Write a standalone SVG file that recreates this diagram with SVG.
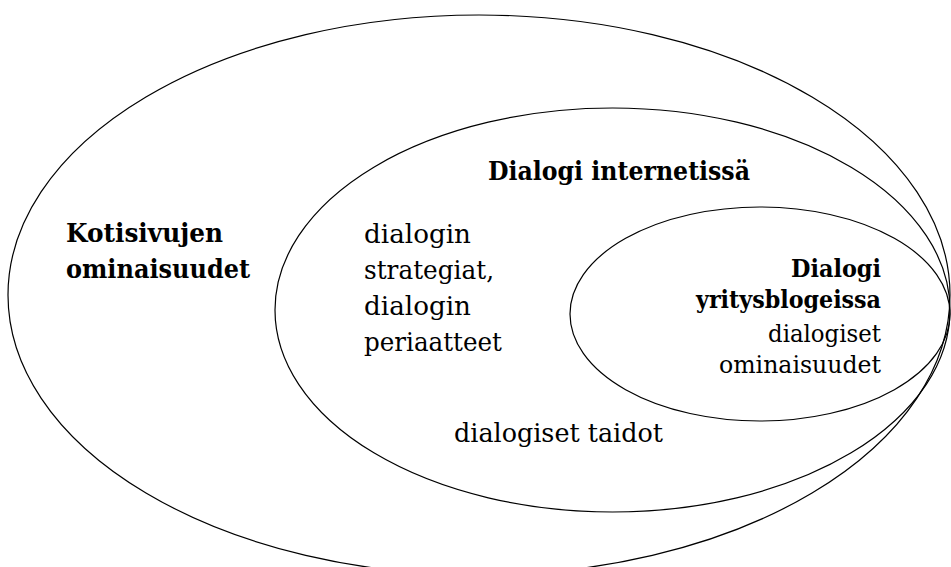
<svg xmlns="http://www.w3.org/2000/svg" width="951" height="567" viewBox="0 0 951 567">
<style>
.ring{fill:none;stroke:#000;stroke-width:1.2}
text{font-family:'DejaVu Serif',serif;fill:#000}
.b{font-weight:bold}
.m{font-size:26px}
.s{font-size:24px}
</style>
<rect width="951" height="567" fill="#fff"/>
<g id="outer">
<ellipse class="ring" cx="479" cy="295" rx="471" ry="280"/>
<text class="b m" x="66" y="242" textLength="157" lengthAdjust="spacingAndGlyphs">Kotisivujen</text>
<text class="b m" x="66" y="278" textLength="184" lengthAdjust="spacingAndGlyphs">ominaisuudet</text>
</g>
<g id="middle">
<ellipse class="ring" cx="612.5" cy="310" rx="337.5" ry="202"/>
<text class="b m" x="488" y="180" textLength="262" lengthAdjust="spacingAndGlyphs">Dialogi internetissä</text>
<text class="m" x="364" y="243" textLength="107" lengthAdjust="spacingAndGlyphs">dialogin</text>
<text class="m" x="364" y="279" textLength="130" lengthAdjust="spacingAndGlyphs">strategiat,</text>
<text class="m" x="364" y="315" textLength="107" lengthAdjust="spacingAndGlyphs">dialogin</text>
<text class="m" x="364" y="351" textLength="138" lengthAdjust="spacingAndGlyphs">periaatteet</text>
<text class="m" x="454" y="442" textLength="209" lengthAdjust="spacingAndGlyphs">dialogiset taidot</text>
</g>
<g id="inner">
<ellipse class="ring" cx="760" cy="314" rx="190" ry="107"/>
<text class="b s" x="791" y="277" textLength="90" lengthAdjust="spacingAndGlyphs">Dialogi</text>
<text class="b s" x="696" y="308" textLength="185" lengthAdjust="spacingAndGlyphs">yritysblogeissa</text>
<text class="s" x="768" y="342" textLength="113" lengthAdjust="spacingAndGlyphs">dialogiset</text>
<text class="s" x="719" y="373" textLength="162" lengthAdjust="spacingAndGlyphs">ominaisuudet</text>
</g>
<g id="connectors"/>
</svg>
